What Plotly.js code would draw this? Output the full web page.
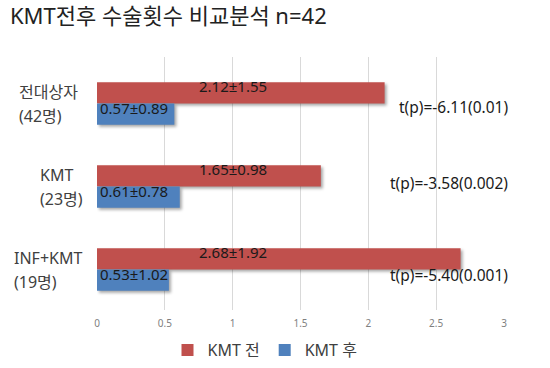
<!DOCTYPE html>
<html>
<head>
<meta charset="utf-8">
<script src="https://cdn.plot.ly/plotly-3.0.1.min.js"></script>
<style>
html,body{margin:0;padding:0;background:#fff;}
#chart{width:550px;height:368px;}
.barlayer .point path{filter:drop-shadow(2px 2px 1.5px rgba(0,0,0,0.35));}
</style>
</head>
<body>
<div id="chart"></div>
<script>
// ---- data ----
const categories = ['전대상자', 'KMT', 'INF+KMT'];
const groupSizes = ['(42명)', '(23명)', '(19명)'];
const seriesNames = ['KMT 전', 'KMT 후'];
const beforeMean = [2.12, 1.65, 2.68];
const beforeSD = [1.55, 0.98, 1.92];
const afterMean = [0.57, 0.61, 0.53];
const afterSD = [0.89, 0.78, 1.02];
const tpLabels = ['t(p)=-6.11(0.01)', 't(p)=-3.58(0.002)', 't(p)=-5.40(0.001)'];
const xTicks = [0, 0.5, 1, 1.5, 2, 2.5, 3];

// ---- styling / layout helpers ----
const RED = '#C0504D', BLUE = '#4F81BD';
const FONT = 'Noto Sans, Noto Sans CJK KR, sans-serif';
const plotLeft = 97, plotWidth = 407;
const pxToPaper = px => (px - plotLeft) / plotWidth;
const catLabelLeft = [17, 38, 12];
const tpShift = [-4, 3, -6];

const traces = [
  {type:'bar', orientation:'h', name:seriesNames[0], y:categories, x:beforeMean,
   marker:{color:RED}, hoverinfo:'x'},
  {type:'bar', orientation:'h', name:seriesNames[1], y:categories, x:afterMean,
   marker:{color:BLUE}, hoverinfo:'x'}
];

const annotations = [];
categories.forEach((c, i) => {
  annotations.push({xref:'paper', yref:'y', x:pxToPaper(catLabelLeft[i]), y:c, yshift:11,
    xanchor:'left', yanchor:'middle', showarrow:false, text:c,
    font:{family:FONT, size:16, color:'#404040'}});
  annotations.push({xref:'paper', yref:'y', x:pxToPaper(catLabelLeft[i]), y:c, yshift:-13,
    xanchor:'left', yanchor:'middle', showarrow:false, text:groupSizes[i],
    font:{family:FONT, size:16, color:'#404040'}});
  annotations.push({xref:'x', yref:'y', x:0.737, y:c, yshift:17,
    xanchor:'left', yanchor:'middle', showarrow:false,
    text:beforeMean[i].toFixed(2) + '±' + beforeSD[i].toFixed(2),
    font:{family:FONT, size:15, color:'#1a1a1a'}});
  annotations.push({xref:'x', yref:'y', x:0, xshift:1, y:c, yshift:-5,
    xanchor:'left', yanchor:'middle', showarrow:false,
    text:afterMean[i].toFixed(2) + '±' + afterSD[i].toFixed(2),
    font:{family:FONT, size:15, color:'#1a1a1a'}});
  annotations.push({xref:'paper', yref:'y', x:pxToPaper(510), y:c, yshift:tpShift[i],
    xanchor:'right', yanchor:'middle', showarrow:false, text:tpLabels[i],
    font:{family:FONT, size:15.5, color:'#1a1a1a'}});
});

const layout = {
  width:550, height:368,
  margin:{l:97, r:46, t:57, b:58, autoexpand:false},
  paper_bgcolor:'#fff', plot_bgcolor:'#fff',
  title:{text:'KMT전후 수술횟수 비교분석 n=42', x:10/550, xanchor:'left', xref:'container',
    y:1-16/368, yanchor:'middle', yref:'container',
    font:{family:FONT, size:22, color:'#222'}},
  barmode:'group', bargap:0.49, bargroupgap:0,
  xaxis:{range:[0,3], tickvals:xTicks, ticktext:xTicks.map(String),
    showgrid:true, gridcolor:'#D9D9D9', gridwidth:1, zeroline:false,
    showline:false, ticks:'', ticklen:0, automargin:false, ticklabelstandoff:6,
    tickfont:{family:FONT, size:10, color:'#7f7f7f'}, fixedrange:true},
  yaxis:{type:'category', range:[2.488, -0.56], showticklabels:false, showgrid:false,
    zeroline:false, showline:false, ticks:'', automargin:false},
  showlegend:true,
  legend:{orientation:'h', x:pxToPaper(265), xanchor:'center',
    yref:'container', y:18/368, yanchor:'middle',
    font:{family:FONT, size:16, color:'#404040'}, itemwidth:30, traceorder:'normal'},
  annotations:annotations
};

Plotly.newPlot('chart', traces, layout, {staticPlot:true, displayModeBar:false});
</script>
</body>
</html>
